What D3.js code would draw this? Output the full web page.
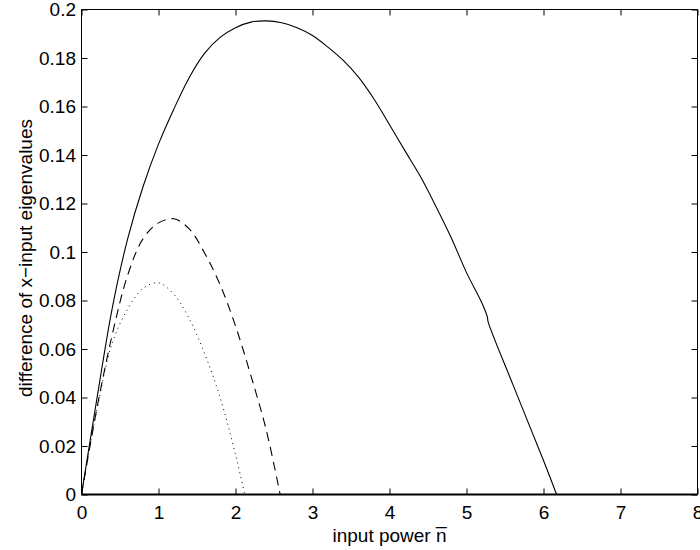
<!DOCTYPE html>
<html>
<head>
<meta charset="utf-8">
<script src="https://cdn.jsdelivr.net/npm/d3@7"></script>
<style>
  html, body { margin: 0; padding: 0; background: #fff; }
  svg { display: block; }
  text { font-family: "Liberation Sans", Arial, Helvetica, sans-serif; }
</style>
</head>
<body>
<svg id="chart" width="700" height="550"></svg>
<script>
// ---- data ----
const xTicks = [0, 1, 2, 3, 4, 5, 6, 7, 8];
const yTicks = [0, 0.02, 0.04, 0.06, 0.08, 0.1, 0.12, 0.14, 0.16, 0.18, 0.2];
const yTickLabels = ["0", "0.02", "0.04", "0.06", "0.08", "0.1", "0.12", "0.14", "0.16", "0.18", "0.2"];

const solidX = [0, 0.2, 0.4, 0.6, 0.8, 1.0, 1.2, 1.4, 1.6, 1.8, 2.0, 2.2, 2.4, 2.6, 2.8, 3.0, 3.2, 3.4, 3.6, 3.8, 4.0, 4.2, 4.4, 4.6, 4.8, 5.0, 5.2, 5.27, 5.28, 5.6, 6.0, 6.17];
const solidY = [0, 0.0395, 0.0770, 0.1055, 0.1270, 0.1445, 0.1590, 0.1720, 0.1820, 0.1885, 0.1925, 0.1948, 0.1953, 0.1945, 0.1925, 0.1893, 0.1845, 0.1790, 0.1720, 0.1630, 0.1525, 0.1418, 0.1312, 0.1190, 0.1060, 0.0915, 0.0790, 0.0733, 0.0713, 0.0455, 0.0140, 0];

const dashedX = [0, 0.2, 0.4, 0.6, 0.8, 1.0, 1.2, 1.4, 1.6, 1.8, 2.0, 2.2, 2.4, 2.58];
const dashedY = [0, 0.0355, 0.0660, 0.0905, 0.1055, 0.1120, 0.1137, 0.1095, 0.0995, 0.0865, 0.0695, 0.0490, 0.0265, 0];

const dottedX = [0, 0.2, 0.4, 0.6, 0.8, 1.0, 1.2, 1.4, 1.6, 1.8, 2.0, 2.12];
const dottedY = [0, 0.0350, 0.0625, 0.0765, 0.0850, 0.0873, 0.0825, 0.0725, 0.0580, 0.0400, 0.0165, 0];

const xLabel = "input power n\u0305";
const yLabel = "difference of x\u2212input eigenvalues";

// ---- layout ----
const svg = d3.select("#chart");
const L = 81.5, R = 697.5, T = 9.5, B = 494.5;
const x = d3.scaleLinear().domain([0, 8]).range([L, R]);
const y = d3.scaleLinear().domain([0, 0.2]).range([B, T]);
const fs = 19;

const clipId = "plotclip";
svg.append("clipPath").attr("id", clipId)
  .append("rect").attr("x", L).attr("y", T - 1).attr("width", R - L).attr("height", B - T + 1);

// ---- curves ----
const line = d3.line().x(d => x(d[0])).y(d => y(d[1])).curve(d3.curveCatmullRom.alpha(0.5));
const series = [
  { xs: solidX, ys: solidY, dash: null, w: 1.1 },
  { xs: dashedX, ys: dashedY, dash: "9,6", w: 1.1 },
  { xs: dottedX, ys: dottedY, dash: "1,4", w: 1.0 }
];
const g = svg.append("g").attr("clip-path", `url(#${clipId})`);
series.forEach(s => {
  const pts = s.xs.map((v, i) => [v, s.ys[i]]);
  g.append("path").attr("d", line(pts))
    .attr("fill", "none").attr("stroke", "#000")
    .attr("stroke-width", s.w)
    .attr("stroke-dasharray", s.dash);
});

// ---- axes ----
function styleAxis(sel) {
  sel.select(".domain").remove();
  sel.selectAll(".tick line").attr("stroke", "#000").attr("stroke-width", 1);
  sel.selectAll(".tick text").attr("font-size", fs).attr("fill", "#000")
    .attr("font-family", '"Liberation Sans", Arial, sans-serif');
}
const ax = svg.append("g").attr("transform", `translate(0,${B})`)
  .call(d3.axisBottom(x).tickValues(xTicks).tickFormat(d3.format("d")).tickSizeInner(-6).tickSizeOuter(0).tickPadding(11));
styleAxis(ax);
const axT = svg.append("g").attr("transform", `translate(0,${T})`)
  .call(d3.axisTop(x).tickValues(xTicks).tickFormat("").tickSizeInner(-6).tickSizeOuter(0));
styleAxis(axT);
const ay = svg.append("g").attr("transform", `translate(${L},0)`)
  .call(d3.axisLeft(y).tickValues(yTicks).tickFormat((d, i) => yTickLabels[i]).tickSizeInner(-6).tickSizeOuter(0).tickPadding(5.5));
styleAxis(ay);
const ayR = svg.append("g").attr("transform", `translate(${R},0)`)
  .call(d3.axisRight(y).tickValues(yTicks).tickFormat("").tickSizeInner(-6).tickSizeOuter(0));
styleAxis(ayR);

// box
svg.append("line").attr("x1", L).attr("x2", R).attr("y1", T).attr("y2", T).attr("stroke", "#000").attr("stroke-width", 1);
svg.append("line").attr("x1", L).attr("x2", L).attr("y1", T).attr("y2", B).attr("stroke", "#000").attr("stroke-width", 1);
svg.append("line").attr("x1", R).attr("x2", R).attr("y1", T).attr("y2", B).attr("stroke", "#000").attr("stroke-width", 1);
svg.append("line").attr("x1", L).attr("x2", R).attr("y1", B).attr("y2", B).attr("stroke", "#000").attr("stroke-width", 1.8);

// labels
svg.append("text").attr("x", (L + R) / 2).attr("y", 541.5)
  .attr("text-anchor", "middle").attr("font-size", fs).text(xLabel);
svg.append("text").attr("transform", `translate(32,258) rotate(-90)`)
  .attr("text-anchor", "middle").attr("font-size", fs).text(yLabel);
</script>
</body>
</html>
